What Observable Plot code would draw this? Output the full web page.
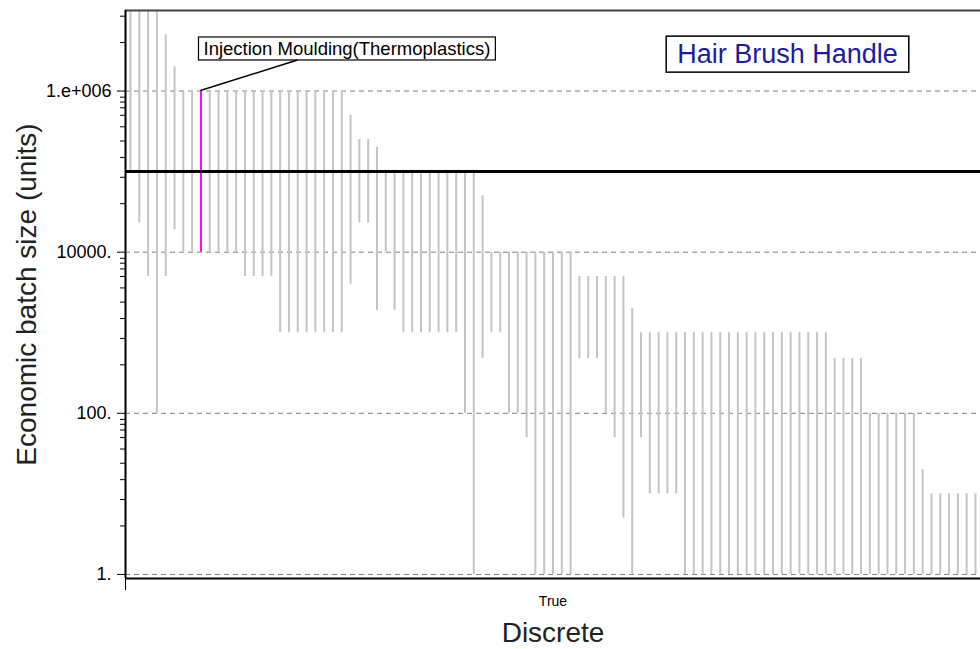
<!DOCTYPE html>
<html>
<head>
<meta charset="utf-8">
<script src="https://cdn.jsdelivr.net/npm/d3@7"></script>
<script src="https://cdn.jsdelivr.net/npm/@observablehq/plot@0.6"></script>
<style>
html, body { margin: 0; padding: 0; background: #fff; }
#chart { width: 980px; height: 649px; overflow: hidden; }
</style>
</head>
<body>
<div id="chart"></div>
<script>
// ---- data ----
const barLow = [
  1e5, 2.3e4, 5e3, 100, 5e3, 1.9e4,
  1e4, 1e4, 1e4, 1e4, 1e4, 1e4, 1e4,
  5e3, 5e3, 5e3, 5e3,
  1e3, 1e3, 1e3, 1e3, 1e3, 1e3, 1e3, 1e3,
  4e3, 2.3e4, 2.3e4, 1.9e3, 1e4, 1.9e3,
  1e3, 1e3, 1e3, 1e3, 1e3, 1e3, 1e3,
  100, 1, 480,
  1e3, 1e3, 100, 100, 50,
  1, 1, 1, 1, 1,
  480, 480, 480, 100, 50, 5,
  1, 50,
  10, 10, 10, 10,
  1, 1, 1, 1, 1, 1, 1, 1, 1, 1, 1, 1, 1, 1, 1, 1, 1,
  1, 1, 1, 1,
  1, 1, 1, 1, 1, 1,
  1,
  1, 1, 1, 1, 1, 1
];
const barHigh = [
  2e7, 2e7, 2e7, 2e7, 5e6, 2e6,
  1e6, 1e6, 1e6, 1e6, 1e6, 1e6, 1e6,
  1e6, 1e6, 1e6, 1e6,
  1e6, 1e6, 1e6, 1e6, 1e6, 1e6, 1e6, 1e6,
  5e5, 2.5e5, 2.5e5, 2e5, 1e5, 1e5,
  1e5, 1e5, 1e5, 1e5, 1e5, 1e5, 1e5,
  1e5, 1e5, 5e4,
  1e4, 1e4, 1e4, 1e4, 1e4,
  1e4, 1e4, 1e4, 1e4, 1e4,
  5e3, 5e3, 5e3, 5e3, 5e3, 5e3,
  2e3, 1e3,
  1e3, 1e3, 1e3, 1e3,
  1e3, 1e3, 1e3, 1e3, 1e3, 1e3, 1e3, 1e3, 1e3, 1e3, 1e3, 1e3, 1e3, 1e3, 1e3, 1e3, 1e3,
  480, 480, 480, 480,
  100, 100, 100, 100, 100, 100,
  20,
  10, 10, 10, 10, 10, 10
];
const highlightIndex = 9;
const highlightLabel = "Injection Moulding(Thermoplastics)";
const chartTitle = "Hair Brush Handle";
const targetBatch = [1e5];
const yTickValues = [1, 100, 10000, 1000000];
const yTickLabels = ["1.", "100.", "10000.", "1.e+006"];
const yMinorTicks = [
  4, 8.5, 15, 24, 36, 50, 62, 73, 84,
  400, 850, 1500, 2400, 3600, 5000, 6200, 7300, 8400,
  4e4, 8.5e4, 1.5e5, 2.4e5, 3.6e5, 5e5, 6.2e5, 7.3e5, 8.4e5,
  4e6, 8.5e6
];
const xCategory = "True";
const xTitle = "Discrete";
const yTitle = "Economic batch size (units)";
const xDomain = [0.43, 97.57];
const yDomain = [0.89, 1e7];

// ---- build ----
const bars = barLow.map((lo, k) => ({i: k + 1, lo, hi: barHigh[k]}));
const normalBars = bars.filter(d => d.i !== highlightIndex);
const hiBars = bars.filter(d => d.i === highlightIndex);
const font = "Liberation Sans, Arial, Helvetica, sans-serif";

const plot = Plot.plot({
  width: 980,
  height: 649,
  marginLeft: 125,
  marginRight: 0,
  marginTop: 10,
  marginBottom: 71,
  style: {background: "white", fontFamily: font, color: "black"},
  x: {domain: xDomain, axis: null},
  y: {type: "log", domain: yDomain, clamp: true, axis: null},
  marks: [
    Plot.ruleY(yTickValues, {stroke: "#808080", strokeWidth: 1, strokeDasharray: "5,4"}),
    Plot.ruleX(normalBars, {x: "i", y1: "lo", y2: "hi", stroke: "#c4c4c4", strokeWidth: 2}),
    Plot.ruleX(hiBars, {x: "i", y1: "lo", y2: "hi", stroke: "#ff00ff", strokeWidth: 2}),
    Plot.ruleY(targetBatch, {stroke: "black", strokeWidth: 3}),
    Plot.ruleY([yDomain[1]], {stroke: "#444", strokeWidth: 2}),
    Plot.ruleY([yDomain[0]], {stroke: "black", strokeWidth: 2}),
    Plot.ruleX([xDomain[0]], {stroke: "black", strokeWidth: 2}),
    Plot.axisY(yMinorTicks, {tickSize: 5, tickFormat: () => "", label: null, stroke: "black"}),
    Plot.axisY(yTickValues, {
      tickSize: 8, tickPadding: 6, fontSize: 18, label: null, stroke: "black",
      tickFormat: d => yTickLabels[yTickValues.indexOf(d)]
    }),
    Plot.axisX([xDomain[0]], {tickSize: 12, tickFormat: () => "", label: null, stroke: "black"}),
    Plot.text([yTitle], {frameAnchor: "left", rotate: -90, dx: -98, textAnchor: "middle", lineAnchor: "middle", fontSize: 28, fill: "#222"}),
    Plot.text([xCategory], {frameAnchor: "bottom", dy: 23, lineAnchor: "middle", fontSize: 14, fill: "black"}),
    Plot.text([xTitle], {frameAnchor: "bottom", dy: 55, lineAnchor: "middle", fontSize: 28, fill: "#222"}),
    Plot.text([chartTitle], {frameAnchor: "top-right", dx: -193, dy: 44, textAnchor: "middle", lineAnchor: "middle", fill: "#1c1ca0", fontSize: 27}),
    Plot.text(hiBars, {x: "i", y: "hi", text: () => highlightLabel, dx: 146, dy: -42, textAnchor: "middle", lineAnchor: "middle", fill: "black", fontSize: 18.5})
  ]
});

const root = document.getElementById("chart");
root.append(plot);
const svg = plot.tagName.toLowerCase() === "svg" ? plot : plot.querySelector("svg");
const NS = "http://www.w3.org/2000/svg";
const svgRect = svg.getBoundingClientRect();

function boxAround(label, padX, padY, sw) {
  const t = Array.from(svg.querySelectorAll("text")).find(e => e.textContent === label);
  if (!t) return null;
  const r = t.getBoundingClientRect();
  const b = {x: r.left - svgRect.left - padX, y: r.top - svgRect.top - padY, w: r.width + 2 * padX, h: r.height + 2 * padY};
  const rect = document.createElementNS(NS, "rect");
  rect.setAttribute("x", b.x);
  rect.setAttribute("y", b.y);
  rect.setAttribute("width", b.w);
  rect.setAttribute("height", b.h);
  rect.setAttribute("fill", "white");
  rect.setAttribute("stroke", "black");
  rect.setAttribute("stroke-width", sw);
  let g = t;
  while (g.parentNode && g.parentNode !== svg) g = g.parentNode;
  svg.insertBefore(rect, g);
  return b;
}

boxAround(chartTitle, 11, 3, 1.5);
const ab = boxAround(highlightLabel, 5, 1, 1.2);
if (ab) {
  const sx = plot.scale("x"), sy = plot.scale("y");
  const line = document.createElementNS(NS, "line");
  line.setAttribute("x1", sx.apply(highlightIndex));
  line.setAttribute("y1", sy.apply(barHigh[highlightIndex - 1]));
  line.setAttribute("x2", ab.x + ab.w / 3);
  line.setAttribute("y2", ab.y + ab.h);
  line.setAttribute("stroke", "black");
  line.setAttribute("stroke-width", 1.5);
  svg.appendChild(line);
}
</script>
</body>
</html>
